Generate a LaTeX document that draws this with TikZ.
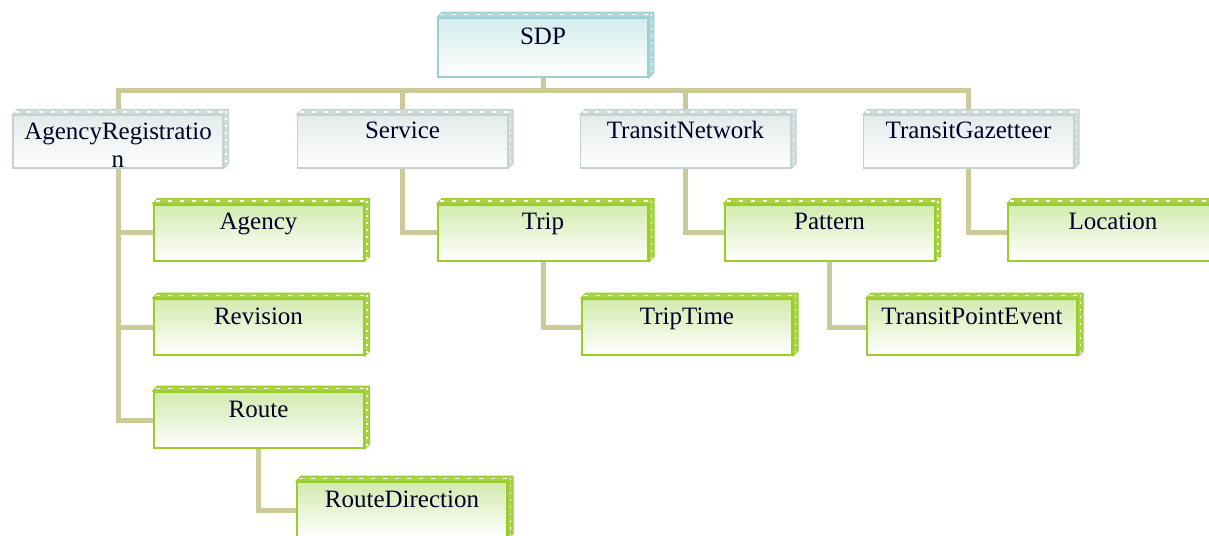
\documentclass[tikz,border=0pt]{standalone}
\usepackage{fontspec}
\setmainfont{Liberation Serif}
\usetikzlibrary{backgrounds}

\definecolor{linkcol}{HTML}{CBCA98}
\definecolor{sdpline}{HTML}{9CD0D0}
\definecolor{sdptop}{HTML}{D2ECEC}
\definecolor{greyline}{HTML}{C6D2D2}
\definecolor{greytop}{HTML}{E2EBEB}
\definecolor{grnline}{HTML}{9ACC2A}
\definecolor{grntop}{HTML}{D2EBAE}

\tikzset{
  link/.style={draw=linkcol, line width=2.5pt},
  card/.style={inner xsep=2pt, inner ysep=0pt, minimum width=105pt,
    font=\fontsize{12.5}{14.4}\selectfont, text=black!85!blue},
  sdpbox/.style={card, draw=sdpline, line width=0.8pt, minimum height=29.5pt,
    text height=13.5pt, text depth=16pt, top color=sdptop, bottom color=white},
  greybox/.style={card, draw=greyline, line width=0.6pt, minimum height=26.5pt,
    text height=12pt, text depth=14.5pt, top color=greytop, bottom color=white},
  grnbox/.style={card, draw=grnline, line width=1pt, minimum height=28pt,
    text height=12.5pt, text depth=15.5pt, top color=grntop, bottom color=white},
  sdpface/.style={fill=sdpline!80, draw=sdpline, line width=0.5pt},
  greyface/.style={fill=greyline!80, draw=greyline, line width=0.5pt},
  grnface/.style={fill=grnline!85, draw=grnline, line width=0.5pt},
}

\begin{document}
\begin{tikzpicture}[x=0.5pt, y=-0.5pt]
\useasboundingbox (0,0) rectangle (1209,535);
\clip (0,0) rectangle (1209,535);

% top of the tree
\node[sdpbox] (sdp) at (543,47.5) {SDP};
% two lines here, so the baseline is the one of the last line
\node[greybox, align=center, text height=26.4pt, text depth=0.1pt] (ar) at (118,141.5)
  {AgencyRegistratio\\n};
\node[greybox] (svc) at (402.5,141.5) {Service};
\node[greybox] (tn) at (685.5,141.5) {TransitNetwork};
\node[greybox] (tg) at (968.5,141.5) {TransitGazetteer};

% leaves
\node[grnbox] (agency) at (258.5,232.5) {Agency};
\node[grnbox] (revision) at (258.5,327) {Revision};
\node[grnbox] (route) at (258.5,420) {Route};
\node[grnbox] (routedir) at (402,510) {RouteDirection};
\node[grnbox] (trip) at (543,232.5) {Trip};
\node[grnbox] (triptime) at (687,327) {TripTime};
\node[grnbox] (pattern) at (829.5,232.5) {Pattern};
\node[grnbox] (tpe) at (972,327) {TransitPointEvent};
\node[grnbox] (location) at (1113,232.5) {Location};

% connectors go under the boxes
\coordinate (bus) at (543,91);
\begin{pgfonlayer}{background}
\draw[link] (sdp.south) -- (bus) -| (ar.north);
\draw[link] (bus) -| (svc.north);
\draw[link] (bus) -| (tn.north);
\draw[link] (bus) -| (tg.north);

\draw[link] (ar.south) |- (agency.west);
\draw[link] (ar.south) |- (revision.west);
\draw[link] (ar.south) |- (route.west);
\draw[link] (route.south) |- (routedir.west);
\draw[link] (svc.south) |- (trip.west);
\draw[link] (trip.south) |- (triptime.west);
\draw[link] (tn.south) |- (pattern.west);
\draw[link] (pattern.south) |- (tpe.west);
\draw[link] (tg.south) |- (location.west);
\end{pgfonlayer}

% top and right faces
\foreach \n/\f in {sdp/sdpface, ar/greyface, svc/greyface, tn/greyface, tg/greyface,
    agency/grnface, revision/grnface, route/grnface, routedir/grnface, trip/grnface,
    triptime/grnface, pattern/grnface, tpe/grnface, location/grnface} {
  \path[\f] (\n.north west) -- ++(5,-5) -- ([shift={(5,-5)}]\n.north east)
    -- ([shift={(5,-5)}]\n.south east) -- (\n.south east) -- (\n.north east) -- cycle;
  \draw[white, line width=0.7pt, dash pattern=on 2pt off 4pt]
    ([shift={(3,-2.5)}]\n.north west) -- ([shift={(2,-2.5)}]\n.north east);
  \draw[white, line width=0.7pt, dash pattern=on 1pt off 2.5pt]
    ([shift={(2.5,-3)}]\n.north east) -- ([shift={(2.5,-2)}]\n.south east);
}
\end{tikzpicture}
\end{document}
